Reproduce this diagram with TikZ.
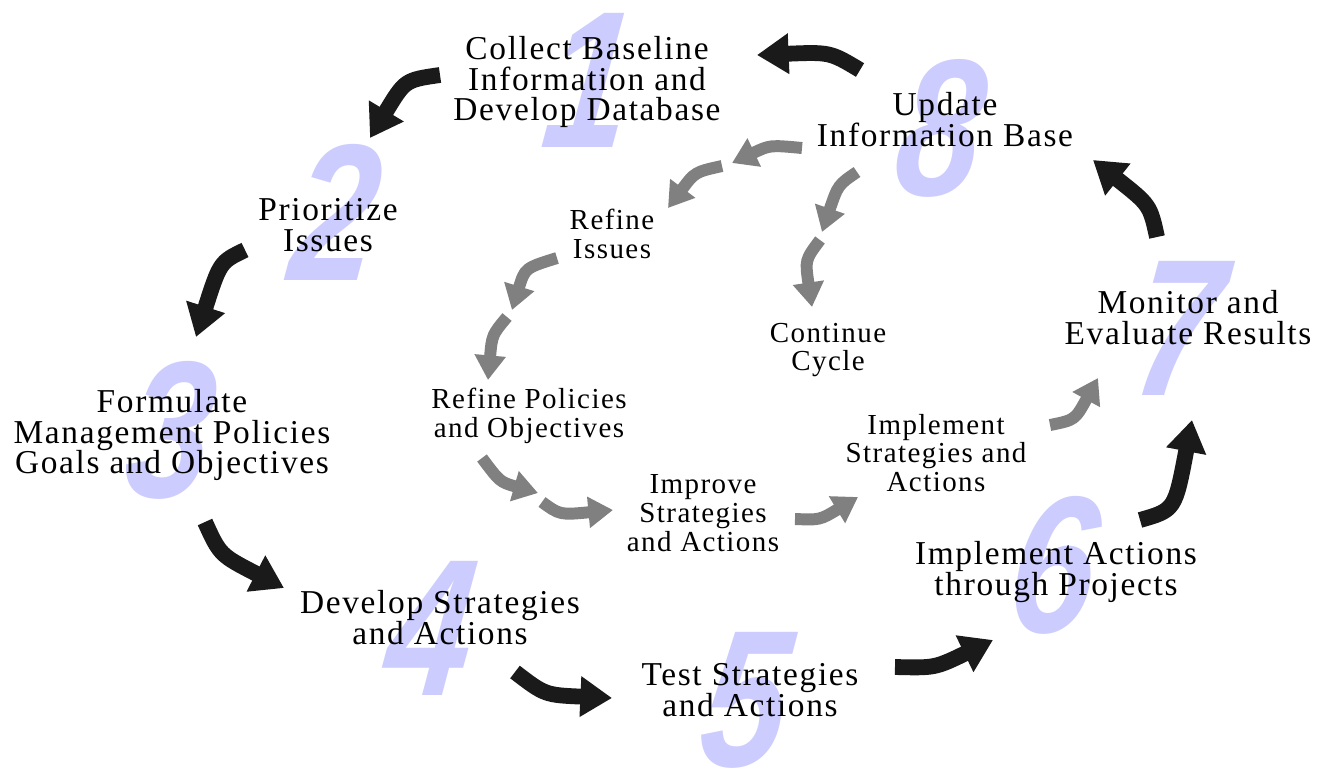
\documentclass[tikz,border=0pt]{standalone}
\usepackage{fontspec}
\setmainfont[LetterSpace=5]{Liberation Serif}
\newfontfamily\numfont{Liberation Sans}
\usetikzlibrary{arrows.meta}
\definecolor{lav}{RGB}{204,204,255}
\definecolor{grarrow}{RGB}{128,128,128}
\definecolor{blarrow}{RGB}{26,26,26}
\tikzset{
  outer/.style={font=\fontsize{19}{17.6}\selectfont,align=center,inner sep=0},
  inner/.style={font=\fontsize{16.5}{16.4}\selectfont,align=center,inner sep=0},
  num/.style={text=lav,font=\numfont\bfseries\itshape\fontsize{111}{111}\selectfont,inner sep=0,xscale=.78,xslant=.15,transform shape},
  bigarr/.style={draw=blarrow,line width=9pt,-{Triangle[width=22pt,length=18pt]}},
  smallarr/.style={draw=grarrow,line width=6.8pt,-{Triangle[width=17pt,length=14pt]}}
}
\begin{document}
\begin{tikzpicture}[x=0.02cm,y=-0.02cm]
\fill[white] (0,0) rectangle (1325,772);
\useasboundingbox (0,0) rectangle (1325,772);
% grosse Ziffern im Hintergrund
\foreach \i/\p in {1/{590,80},2/{337,212},3/{172,430},4/{432,628},5/{747,700},6/{1055,565},7/{1180,328},8/{942,128}}
  \node[num] (n\i) at (\p) {\i};
% aeusserer Kreislauf
\node[outer] (collect) at (587,82) {Collect Baseline\\Information and\\Develop Database};
\node[outer] (prior) at (328,225) {Prioritize\\Issues};
\node[outer] (formul) at (172,435) {Formulate\\Management Policies\\Goals and Objectives};
\node[outer] (develop) at (440,618) {Develop Strategies\\and Actions};
\node[outer] (test) at (750,690) {Test Strategies\\and Actions};
\node[outer] (implact) at (1056,572) {Implement Actions\\through Projects};
\node[outer] (monitor) at (1188,318) {Monitor and\\Evaluate Results};
\node[outer] (update) at (945,120) {Update\\Information Base};
% innerer Kreislauf
\node[inner] (refiss) at (612,234) {Refine\\Issues};
\node[inner] (refpol) at (529,416) {Refine Policies\\and Objectives};
\node[inner] (improve) at (703,513) {Improve\\Strategies\\and Actions};
\node[inner] (implstr) at (936,453) {Implement\\Strategies and\\Actions};
\node[inner] (cont) at (828,350) {Continue\\Cycle};
% schwarze Pfeile: Anfang/Kontrollpunkt/Spitze
\foreach \i/\s/\c/\t in {1/{860,70}/{830,52}/{757,55},2/{440,75}/{405,80}/{370,138},
  3/{245,250}/{220,262}/{196,337},4/{205,522}/{220,555}/{284,588},5/{515,672}/{545,695}/{612,698},
  6/{895,667}/{935,668}/{993,640},7/{1140,520}/{1175,510}/{1192,420},8/{1157,237}/{1150,205}/{1093,160}}{
  \coordinate (b\i s) at (\s); \coordinate (b\i c) at (\c); \coordinate (b\i t) at (\t);
  \draw[bigarr] (b\i s) .. controls (b\i c) .. (b\i t);
}
% graue Pfeile
\foreach \i/\s/\c/\t in {1/{802,148}/{770,145}/{732,163},2/{722,166}/{695,172}/{668,208},
  3/{857,172}/{838,185}/{822,232},4/{820,240}/{805,260}/{812,307},5/{557,258}/{525,268}/{512,310},
  6/{507,317}/{492,335}/{488,380},7/{482,458}/{500,482}/{538,493},8/{542,502}/{560,515}/{613,510},
  9/{795,519}/{820,520}/{858,497},10/{1050,425}/{1075,420}/{1098,378}}{
  \coordinate (g\i s) at (\s); \coordinate (g\i c) at (\c); \coordinate (g\i t) at (\t);
  \draw[smallarr] (g\i s) .. controls (g\i c) .. (g\i t);
}
\end{tikzpicture}
\end{document}
